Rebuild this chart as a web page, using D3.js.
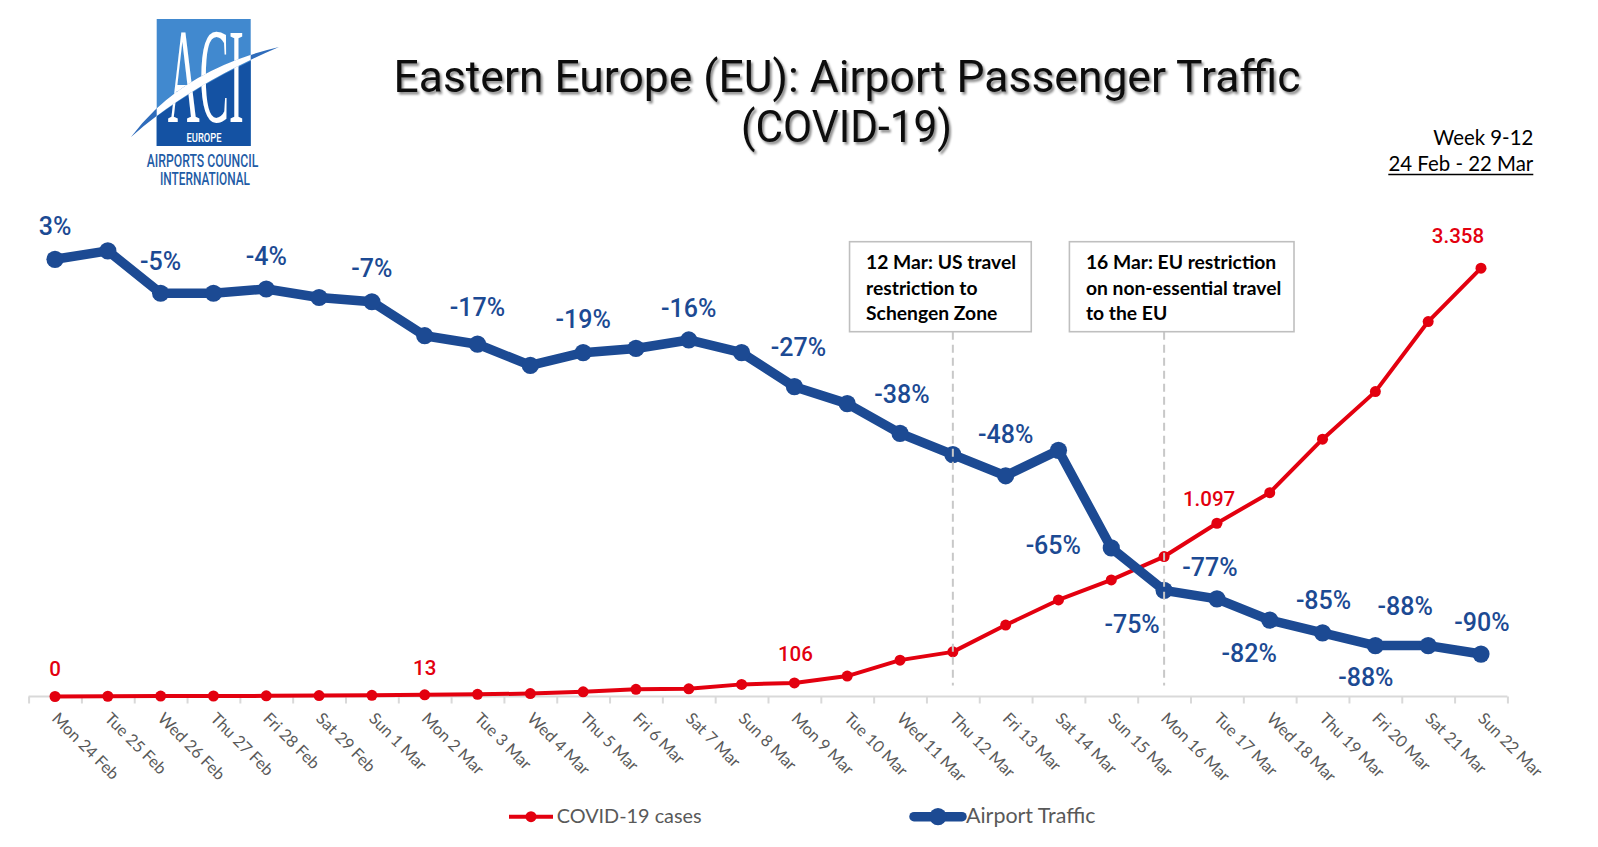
<!DOCTYPE html>
<html><head><meta charset="utf-8">
<script src="https://cdn.jsdelivr.net/npm/d3@7"></script>
<style>body{margin:0;background:#fff;overflow:hidden} svg{display:block}</style>
</head><body><svg id="c" width="1598" height="847"></svg>
<script>
// ---------- DATA ----------
const dates = ["Mon 24 Feb","Tue 25 Feb","Wed 26 Feb","Thu 27 Feb","Fri 28 Feb","Sat 29 Feb","Sun 1 Mar","Mon 2 Mar","Tue 3 Mar","Wed 4 Mar","Thu 5 Mar","Fri 6 Mar","Sat 7 Mar","Sun 8 Mar","Mon 9 Mar","Tue 10 Mar","Wed 11 Mar","Thu 12 Mar","Fri 13 Mar","Sat 14 Mar","Sun 15 Mar","Mon 16 Mar","Tue 17 Mar","Wed 18 Mar","Thu 19 Mar","Fri 20 Mar","Sat 21 Mar","Sun 22 Mar"];
const covidCases = [0,2,3,4,5,7,9,13,17,23,37,56,60,95,106,160,285,350,560,757,914,1097,1358,1598,2017,2390,2939,3358];
const airportTraffic = [3,5,-5,-5,-4,-6,-7,-15,-17,-22,-19,-18,-16,-19,-27,-31,-38,-43,-48,-42,-65,-75,-77,-82,-85,-88,-88,-90];
const casesLabelIdx = [0,7,14,21,27];
const trafficLabelIdx = [0,2,4,6,8,10,12,14,16,18,20,21,22,23,24,25,26,27];
const seriesNames = ["COVID-19 cases","Airport Traffic"];
const titleLines = ["Eastern Europe (EU): Airport Passenger Traffic","(COVID-19)"];
const periodLines = ["Week 9-12","24 Feb - 22 Mar"];
const events = [
  {date:"Thu 12 Mar", lines:["12 Mar: US travel","restriction to","Schengen Zone"]},
  {date:"Mon 16 Mar", lines:["16 Mar: EU restriction","on non-essential travel","to the EU"]}
];
const logoTexts = ["ACI","EUROPE","AIRPORTS COUNCIL","INTERNATIONAL"];

// ---------- STYLE / PLACEMENT ----------
const RED = "#e3000f", BLUE = "#1c4a93", GRAY_TXT = "#595959";
const axisY = 696.5, plotTop = 229.6, xLeft = 28.6, xRight = 1507.4;
// label offsets relative to the point (text-anchor middle, baseline)
const trafficLabelPos = {0:[0,-24],2:[0,-23.5],4:[0,-24],6:[0,-24.5],8:[0,-28.5],10:[0,-25],12:[0,-23],14:[4,-31],16:[2,-30],18:[0,-32.5],
  20:[-58,6],21:[-32,42.7],22:[-7,-23],23:[-20.6,42.4],24:[1,-23.7],25:[-9.5,40],26:[-23,-31],27:[1,-22.6]};
const casesLabelPos = {0:[0,-20.5],7:[0,-20],14:[1,-22],21:[45,-50.6],27:[-23,-25.6]};
const eventBox = [{dx:-103.3,w:181.7},{dx:-94.7,w:224.6}];

const svg = d3.select("#c");
svg.append("rect").attr("width",1598).attr("height",847).attr("fill","#fff");
const defs = svg.append("defs");
defs.append("filter").attr("id","sh").attr("x","-5%").attr("y","-30%").attr("width","110%").attr("height","170%")
  .append("feDropShadow").attr("dx",2).attr("dy",2.5).attr("stdDeviation",1.3).attr("flood-color","#000").attr("flood-opacity",0.45);

function fitText(t, w){ const L=t.node().getComputedTextLength(); const fs=+t.attr("font-size"); t.attr("font-size", fs*w/L); return t; }

// ---------- SCALES ----------
const x = d3.scaleBand().domain(dates).range([xLeft,xRight]).padding(0);
const cx = d => x(d) + x.bandwidth()/2;
const yCases = d3.scaleLinear().domain([0,3660]).range([axisY, plotTop]);
const yTraffic = d3.scaleLinear().domain([-100,10]).range([axisY, plotTop]);
const loc = d3.formatLocale({decimal:",",thousands:".",grouping:[3],currency:["",""],minus:"-"});
const fmtCases = loc.format(",d");
const fmtPct = loc.format("d");

// ---------- X AXIS ----------
const xb = d3.scaleLinear().domain([0,dates.length]).range([xLeft,xRight]);
const gTicks = svg.append("g").attr("transform",`translate(0,${axisY})`)
  .call(d3.axisBottom(xb).tickValues(d3.range(dates.length+1)).tickSize(7).tickFormat(""));
gTicks.select(".domain").attr("stroke","#d9d9d9").attr("stroke-width",2).attr("d",`M${xLeft},0H${xRight}`);
gTicks.selectAll(".tick line").attr("stroke","#d9d9d9").attr("stroke-width",2);

const gLab = svg.append("g").attr("transform",`translate(0,${axisY})`)
  .call(d3.axisBottom(x).tickSize(0));
gLab.select(".domain").remove();
gLab.selectAll(".tick text")
  .attr("x",0).attr("y",0).attr("dy",null)
  .attr("transform","translate(-4,23) rotate(45)")
  .attr("text-anchor","start")
  .attr("font-family","Lato, 'Open Sans', sans-serif")
  .attr("font-size",16.3)
  .attr("fill",GRAY_TXT);

// ---------- SERIES ----------
const idx = d3.range(dates.length);
svg.append("path").datum(idx)
  .attr("d", d3.line().x(i=>cx(dates[i])).y(i=>yCases(covidCases[i])))
  .attr("fill","none").attr("stroke",RED).attr("stroke-width",4).attr("stroke-linejoin","round");
svg.append("g").selectAll("circle").data(idx).join("circle")
  .attr("cx",i=>cx(dates[i])).attr("cy",i=>yCases(covidCases[i])).attr("r",5.5).attr("fill",RED);

svg.append("path").datum(idx)
  .attr("d", d3.line().x(i=>cx(dates[i])).y(i=>yTraffic(airportTraffic[i])))
  .attr("fill","none").attr("stroke",BLUE).attr("stroke-width",9.5).attr("stroke-linejoin","round");
svg.append("g").selectAll("circle").data(idx).join("circle")
  .attr("cx",i=>cx(dates[i])).attr("cy",i=>yTraffic(airportTraffic[i])).attr("r",8.6).attr("fill",BLUE);

// ---------- EVENT MARKERS ----------
events.forEach((ev,k)=>{
  const ex = cx(ev.date), b = eventBox[k];
  const top = 241.7, h = 90;
  svg.append("line").attr("x1",ex).attr("x2",ex).attr("y1",top+h).attr("y2",axisY-11)
    .attr("stroke","#c8c8c8").attr("stroke-width",2).attr("stroke-dasharray","8,5");
  svg.append("rect").attr("x",ex+b.dx).attr("y",top).attr("width",b.w).attr("height",h)
    .attr("fill","#fff").attr("stroke","#bfbfbf").attr("stroke-width",1.6);
  const t = svg.append("text").attr("font-family","Lato, sans-serif").attr("font-weight",700)
    .attr("font-size",19.3).attr("fill","#000");
  ev.lines.forEach((ln,j)=> t.append("tspan").attr("x",ex+b.dx+16.5).attr("y",top+27.6+j*25.2).text(ln));
});

// ---------- DATA LABELS ----------
svg.append("g").selectAll("text").data(trafficLabelIdx).join("text")
  .attr("x",i=>cx(dates[i])+trafficLabelPos[i][0]).attr("y",i=>yTraffic(airportTraffic[i])+trafficLabelPos[i][1])
  .attr("text-anchor","middle").attr("font-family","Roboto, sans-serif").attr("font-weight",500)
  .attr("font-size",25).attr("fill",BLUE).text(i=>fmtPct(airportTraffic[i])+"%");
svg.append("g").selectAll("text").data(casesLabelIdx).join("text")
  .attr("x",i=>cx(dates[i])+casesLabelPos[i][0]).attr("y",i=>yCases(covidCases[i])+casesLabelPos[i][1])
  .attr("text-anchor","middle").attr("font-family","Roboto, sans-serif").attr("font-weight",500)
  .attr("font-size",20.5).attr("fill",RED).text(i=>fmtCases(covidCases[i]));

// ---------- TITLE ----------
const tg = svg.append("g").attr("filter","url(#sh)");
tg.append("text").attr("x",847).attr("y",92).attr("text-anchor","middle")
  .attr("font-family","Roboto, sans-serif").attr("font-size",45).attr("fill","#111")
  .attr("textLength",907).attr("lengthAdjust","spacingAndGlyphs").text(titleLines[0]);
tg.append("text").attr("x",846.5).attr("y",142).attr("text-anchor","middle")
  .attr("font-family","Roboto, sans-serif").attr("font-size",45).attr("fill","#111")
  .attr("textLength",211).attr("lengthAdjust","spacingAndGlyphs").text(titleLines[1]);

// ---------- PERIOD ----------
const p1 = svg.append("text").attr("x",1533.3).attr("y",144.5).attr("text-anchor","end")
  .attr("font-family","Lato, sans-serif").attr("font-size",22).attr("fill","#000").text(periodLines[0]);
fitText(p1,100);
const p2 = svg.append("text").attr("x",1533.3).attr("y",171).attr("text-anchor","end")
  .attr("font-family","Lato, sans-serif").attr("font-size",22).attr("fill","#000").text(periodLines[1]);
fitText(p2,145);
svg.append("line").attr("x1",1533.3-145).attr("x2",1533.3).attr("y1",174.5).attr("y2",174.5).attr("stroke","#000").attr("stroke-width",1.6);

// ---------- LEGEND ----------
const lg = svg.append("g");
lg.append("line").attr("x1",509).attr("x2",553).attr("y1",816.7).attr("y2",816.7).attr("stroke",RED).attr("stroke-width",4);
lg.append("circle").attr("cx",531).attr("cy",816.7).attr("r",5.5).attr("fill",RED);
fitText(lg.append("text").attr("x",556.7).attr("y",823.3).attr("font-family","Lato, sans-serif").attr("font-size",22).attr("fill",GRAY_TXT).text(seriesNames[0]),145);
lg.append("line").attr("x1",914).attr("x2",962).attr("y1",816.7).attr("y2",816.7).attr("stroke",BLUE).attr("stroke-width",9.5).attr("stroke-linecap","round");
lg.append("circle").attr("cx",938).attr("cy",816.7).attr("r",8.6).attr("fill",BLUE);
fitText(lg.append("text").attr("x",966).attr("y",823.3).attr("font-family","Lato, sans-serif").attr("font-size",22).attr("fill",GRAY_TXT).text(seriesNames[1]),129.5);

// ---------- LOGO ----------
const logo = svg.append("g");
const LX=156.7, LY=19, LW=94, LH=127;
defs.append("clipPath").attr("id","lclip").append("rect").attr("x",LX).attr("y",LY).attr("width",LW).attr("height",LH);
const swoosh = "M131,137 Q181,70 279,47 Q188,86 131,137 Z";
logo.append("rect").attr("x",LX).attr("y",LY).attr("width",LW).attr("height",LH).attr("fill","#4189cf");
logo.append("path").attr("clip-path","url(#lclip)").attr("fill","#1452a3")
  .attr("d","M125,142 Q188,86 280,48 L280,170 L125,170 Z");
logo.append("text").attr("x",LX+LW/2+2).attr("y",121.7).attr("text-anchor","middle")
  .attr("font-family","'Liberation Serif','DejaVu Serif',serif").attr("font-size",135).attr("fill","#fff")
  .attr("textLength",76).attr("lengthAdjust","spacingAndGlyphs").text(logoTexts[0]);
logo.append("path").attr("fill","#2f6cbb").attr("d",swoosh);
logo.append("path").attr("fill","#fff").attr("clip-path","url(#lclip)").attr("d",swoosh);
logo.append("text").attr("x",204).attr("y",141.5).attr("text-anchor","middle")
  .attr("font-family","Roboto, sans-serif").attr("font-weight",500).attr("font-size",13).attr("fill","#fff")
  .attr("textLength",35).attr("lengthAdjust","spacingAndGlyphs").text(logoTexts[1]);
logo.append("text").attr("x",202.5).attr("y",166.7).attr("text-anchor","middle")
  .attr("font-family","Roboto, sans-serif").attr("font-weight",500).attr("font-size",17.5).attr("fill","#1f5ca6")
  .attr("textLength",111.5).attr("lengthAdjust","spacingAndGlyphs").text(logoTexts[2]);
logo.append("text").attr("x",205).attr("y",185).attr("text-anchor","middle")
  .attr("font-family","Roboto, sans-serif").attr("font-weight",500).attr("font-size",17.5).attr("fill","#1f5ca6")
  .attr("textLength",90).attr("lengthAdjust","spacingAndGlyphs").text(logoTexts[3]);
</script></body></html>
